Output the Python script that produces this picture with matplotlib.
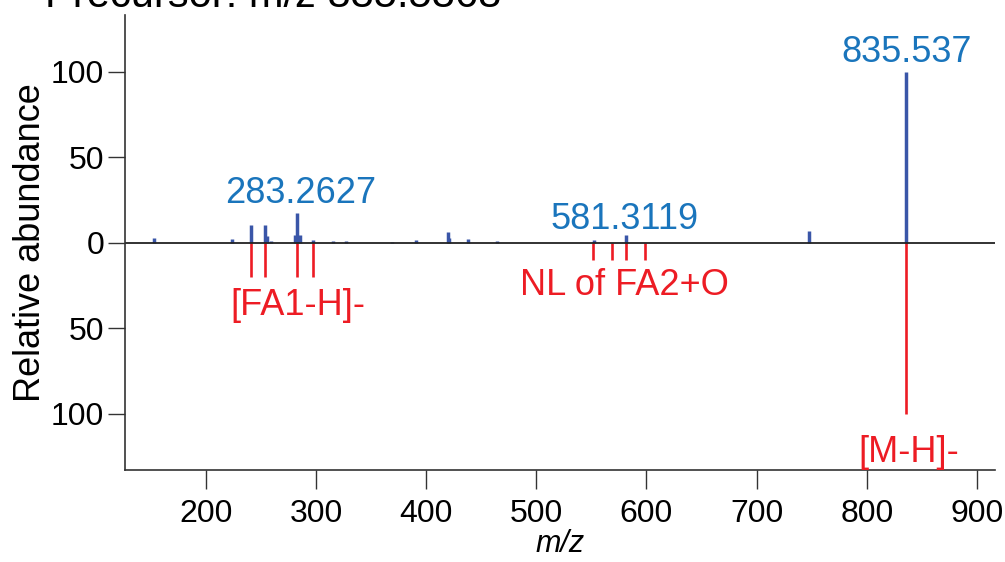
import matplotlib
matplotlib.use('Agg')
import matplotlib.pyplot as plt

plt.rcParams['font.family'] = ['Liberation Sans', 'DejaVu Sans']

# measured spectrum (top, blue)
mz_obs = [152.6, 223.3, 241.2, 253.3, 255.7, 259.4, 281.0, 283.0, 285.0, 297.2,
          315.4, 327.5, 368.5, 390.5, 419.4, 421.0, 438.1, 463.9, 552.6, 581.5,
          747.5, 835.5]
ab_obs = [2.6, 2.0, 10.4, 10.4, 3.9, 1.2, 4.5, 17.5, 4.5, 1.5,
          1.0, 1.0, 0.5, 1.5, 6.4, 3.0, 2.0, 1.0, 1.5, 4.5,
          6.8, 100.0]

# predicted fragments (bottom, red)
mz_fa1 = [241.2, 253.3, 283.0, 297.2]
ab_fa1 = [20, 20, 20, 20]
mz_nl = [551.2, 568.7, 581.5, 599.0]
ab_nl = [10, 10, 10, 10]
mz_mh = [835.5]
ab_mh = [100]

blue = '#3a56a8'
red = '#ed1c24'
lblue = '#1a75bc'

fig = plt.figure(figsize=(10.05, 5.62), dpi=100)
ax = fig.add_axes([0.1244, 0.1637, 0.8656, 0.8096])

ax.vlines(mz_obs, 0, ab_obs, color=blue, lw=2.5)
ax.vlines(mz_fa1, 0, [-v for v in ab_fa1], color=red, lw=1.9)
ax.vlines(mz_nl, 0, [-v for v in ab_nl], color=red, lw=1.9)
ax.vlines(mz_mh, 0, [-v for v in ab_mh], color=red, lw=1.9)
ax.axhline(0, color='#222222', lw=1.3)

ax.set_xlim(126.5, 916.4)
ax.set_ylim(-133, 133.3)
ax.set_xticks([200, 300, 400, 500, 600, 700, 800, 900])
ax.set_yticks([100, 50, 0, -50, -100])
ax.set_yticklabels(['100', '50', '0', '50', '100'])
ax.tick_params(labelsize=23, width=1, color='#333333')
ax.tick_params(axis='x', length=14, pad=7)
ax.tick_params(axis='y', length=12, pad=3)
for s in ['top', 'right']:
    ax.spines[s].set_visible(False)
for s in ['left', 'bottom']:
    ax.spines[s].set_color('#333333')
    ax.spines[s].set_linewidth(1.2)

ax.set_ylabel('Relative abundance', fontsize=26, labelpad=2)
ax.set_xlabel('m/z', fontsize=22, style='italic', labelpad=0)

ax.text(836, 106, '835.537', color=lblue, fontsize=26, ha='center', va='baseline')
ax.text(286, 23.1, '283.2627', color=lblue, fontsize=26, ha='center', va='baseline')
ax.text(580.4, 7.9, '581.3119', color=lblue, fontsize=26, ha='center', va='baseline')
ax.text(283.3, -42.4, '[FA1-H]-', color=red, fontsize=26, ha='center', va='baseline')
ax.text(580.4, -30.7, 'NL of FA2+O', color=red, fontsize=26, ha='center', va='baseline')
ax.text(837.8, -128.5, '[M-H]-', color=red, fontsize=26, ha='center', va='baseline')

fig.text(0.045, 0.9875, 'Precursor: m/z 835.5368', fontsize=30, va='baseline', ha='left')

fig.savefig('out.png', dpi=100)
